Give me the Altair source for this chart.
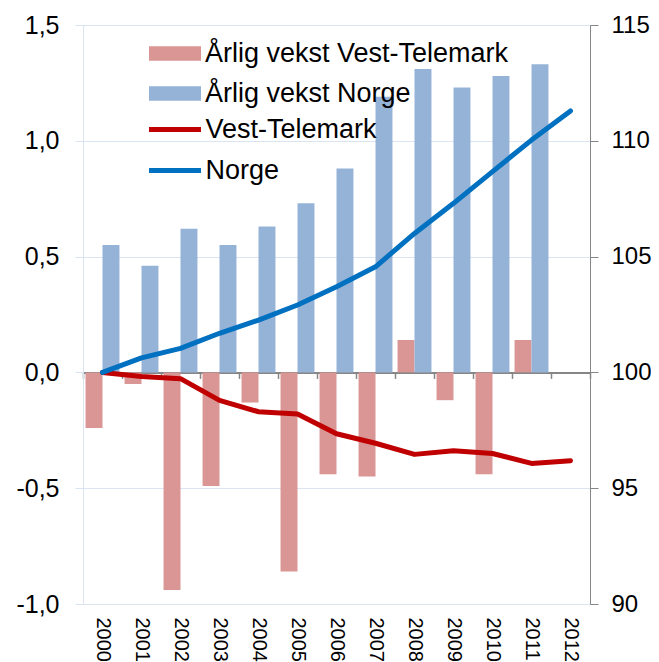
import altair as alt
import pandas as pd

years = [str(y) for y in range(2000, 2013)]
bar_years = years[:12]

# Annual growth (%), left axis
vest_growth = [-0.24, -0.05, -0.94, -0.49, -0.13, -0.86, -0.44, -0.45, 0.14, -0.12, -0.44, 0.14]
norge_growth = [0.55, 0.46, 0.62, 0.55, 0.63, 0.73, 0.88, 1.19, 1.31, 1.23, 1.28, 1.33]

# Index 2000 = 100, right axis
vest_index = [100, 99.82, 99.73, 98.79, 98.3, 98.2, 97.35, 96.94, 96.46, 96.62, 96.5, 96.07, 96.19]
norge_index = [100, 100.63, 101.04, 101.69, 102.26, 102.91, 103.7, 104.56, 106.0, 107.3, 108.67, 110.03, 111.29]

bar_series = ["Årlig vekst Vest-Telemark", "Årlig vekst Norge"]
line_series = ["Vest-Telemark", "Norge"]
bar_colors = ["#d99694", "#95b3d7"]
line_colors = ["#c00000", "#0070c0"]

left_ticks = [-1.0, -0.5, 0.0, 0.5, 1.0, 1.5]
right_ticks = [90, 95, 100, 105, 110, 115]

bars_df = pd.DataFrame({
    "year": bar_years * 2,
    "series": [bar_series[0]] * len(bar_years) + [bar_series[1]] * len(bar_years),
    "value": vest_growth + norge_growth,
})
lines_df = pd.DataFrame({
    "year": years * 2,
    "series": [line_series[0]] * len(years) + [line_series[1]] * len(years),
    "index": vest_index + norge_index,
})

FONT = "Liberation Sans"
GRID = "#dbe4f1"
GRAY = "#868686"

x_scale = alt.Scale(domain=years, paddingInner=0, paddingOuter=0)

zero_axis = alt.Axis(
    orient="bottom", offset=-231.6, labels=False, title=None, grid=False,
    domainColor=GRAY, domainWidth=2, tickColor=GRAY, tickWidth=1.5, tickSize=6,
    tickBand="extent",
)
label_axis = alt.Axis(
    orient="bottom", domain=False, ticks=False, tickSize=0, title=None, grid=False,
    labelAngle=90, labelFontSize=20, labelPadding=13, labelColor="black", labelFont=FONT,
)
left_axis = alt.Axis(
    orient="left", values=left_ticks, title=None,
    labelExpr="(datum.value < 0 ? '-' : '') + replace(format(abs(datum.value), '.1f'), '.', ',')",
    domainColor=GRID, tickColor=GRID, gridColor=GRID, grid=True, tickSize=8,
    labelFontSize=25, labelPadding=16, labelColor="black", labelFont=FONT,
)
right_axis = alt.Axis(
    orient="right", values=right_ticks, title=None, grid=False, format="d",
    domainColor=GRAY, tickColor=GRAY, tickSize=8,
    labelFontSize=24, labelPadding=13, labelColor="black", labelFont=FONT,
)

bars = alt.Chart(bars_df).mark_bar().encode(
    x=alt.X("year:N", scale=x_scale, axis=zero_axis),
    xOffset=alt.XOffset("series:N", scale=alt.Scale(domain=bar_series, paddingInner=0, paddingOuter=0.15)),
    y=alt.Y("value:Q", scale=alt.Scale(domain=[-1, 1.5], nice=False), axis=left_axis),
    fill=alt.Fill(
        "series:N",
        scale=alt.Scale(domain=bar_series, range=bar_colors),
        legend=alt.Legend(
            title=None, orient="none", legendX=78.5, legendY=15, padding=0,
            symbolType="M-2,-0.55H2V0.55H-2Z", symbolSize=676, symbolStrokeWidth=0,
            labelFontSize=27, labelFont=FONT, labelColor="black", labelOffset=16.5,
            rowPadding=12, labelLimit=600,
        ),
    ),
)

lines = alt.Chart(lines_df).mark_line(strokeWidth=5, strokeCap="round", strokeJoin="round").encode(
    x=alt.X("year:N", scale=x_scale, axis=label_axis),
    y=alt.Y("index:Q", scale=alt.Scale(domain=[90, 115], nice=False, zero=False), axis=right_axis),
    stroke=alt.Stroke(
        "series:N",
        scale=alt.Scale(domain=line_series, range=line_colors),
        legend=alt.Legend(
            title=None, orient="none", legendX=76.5, legendY=89, padding=0,
            symbolType="M-2,0H2", symbolSize=676, symbolStrokeWidth=5,
            labelFontSize=27, labelFont=FONT, labelColor="black", labelOffset=15,
            rowPadding=12, labelLimit=600,
        ),
    ),
)

chart = (
    alt.layer(bars, lines)
    .resolve_scale(y="independent")
    .resolve_axis(x="independent", y="independent")
    .properties(
        width=507, height=579,
        autosize=alt.AutoSizeParams(type="none"),
        padding={"left": 75, "top": 17, "right": 61, "bottom": 58},
    )
    .configure_view(stroke=None)
    .configure(background="white")
)

chart.save("out.html", embed_options={"renderer": "svg", "actions": False})
